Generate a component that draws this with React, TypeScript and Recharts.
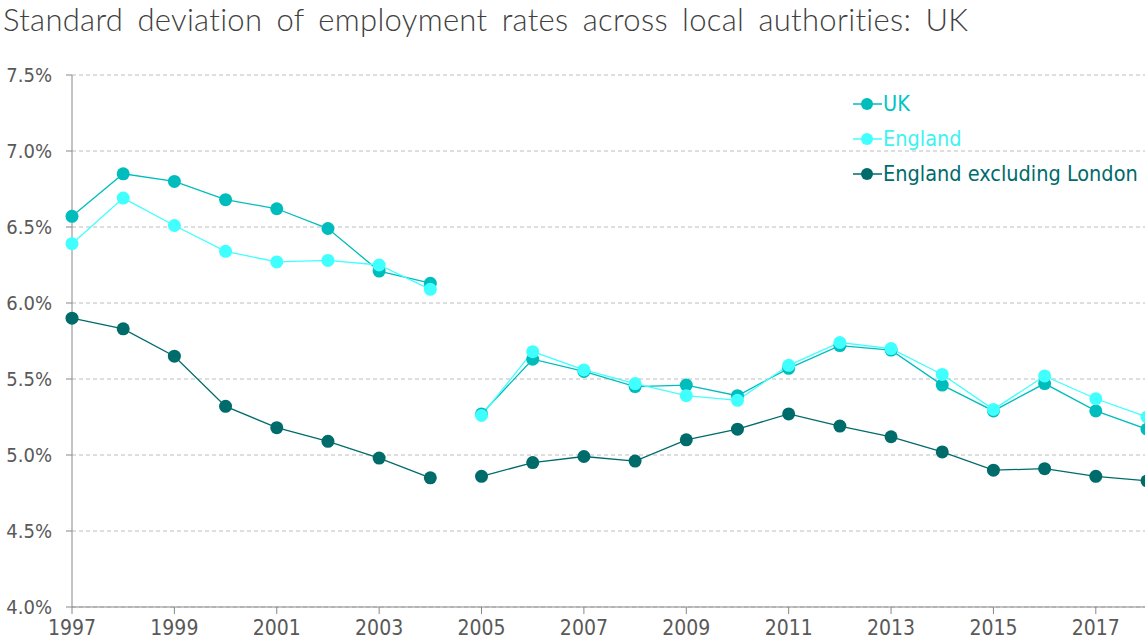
import React from 'react';
import { LineChart, Line, XAxis, YAxis, CartesianGrid, Legend } from 'recharts';

// years; 2004.5 is an empty row so the lines break between the two series blocks
const years = [1997, 1998, 1999, 2000, 2001, 2002, 2003, 2004, 2004.5, 2005, 2006, 2007, 2008, 2009, 2010, 2011, 2012, 2013, 2014, 2015, 2016, 2017, 2018];

const ukValues = [6.57, 6.85, 6.8, 6.68, 6.62, 6.49, 6.21, 6.13, null, 5.27, 5.63, 5.55, 5.45, 5.46, 5.39, 5.57, 5.72, 5.69, 5.46, 5.29, 5.47, 5.29, 5.17];
const englandValues = [6.39, 6.69, 6.51, 6.34, 6.27, 6.28, 6.25, 6.09, null, 5.26, 5.68, 5.56, 5.47, 5.39, 5.36, 5.59, 5.74, 5.7, 5.53, 5.3, 5.52, 5.37, 5.25];
const exclLondonValues = [5.9, 5.83, 5.65, 5.32, 5.18, 5.09, 4.98, 4.85, null, 4.86, 4.95, 4.99, 4.96, 5.1, 5.17, 5.27, 5.19, 5.12, 5.02, 4.9, 4.91, 4.86, 4.83];

const xTicks = [1997, 1999, 2001, 2003, 2005, 2007, 2009, 2011, 2013, 2015, 2017];
const yTicks = [4.0, 4.5, 5.0, 5.5, 6.0, 6.5, 7.0, 7.5];

const series = [
  { key: 'uk', name: 'UK', color: '#00BDBD', text: '#00C4C4' },
  { key: 'england', name: 'England', color: '#40FFFF', text: '#3EF2F2' },
  { key: 'excl', name: 'England excluding London', color: '#006B6B', text: '#006B6B' },
];

const data = years.map((year, i) => ({
  year,
  uk: ukValues[i],
  england: englandValues[i],
  excl: exclLondonValues[i],
}));

const tickFont = "'DejaVu Sans Condensed', 'DejaVu Sans', sans-serif";

function renderLegend(props: any) {
  const items = [...(props.payload || [])].sort(
    (a: any, b: any) => series.findIndex((s) => s.name === a.value) - series.findIndex((s) => s.name === b.value)
  );
  return (
    <div>
      {items.map((entry: any) => {
        const s = series.find((x) => x.name === entry.value);
        return (
          <div key={entry.value} style={{ display: 'flex', alignItems: 'center', height: 35 }}>
            <svg width={29} height={16} style={{ marginRight: 1 }}>
              <line x1={0} y1={8} x2={29} y2={8} stroke={entry.color} strokeWidth={1.5} />
              <circle cx={14} cy={8} r={6} fill={entry.color} />
            </svg>
            <span style={{ color: s ? s.text : entry.color, fontFamily: tickFont, fontSize: 21.5 }}>{entry.value}</span>
          </div>
        );
      })}
    </div>
  );
}

export default function App() {
  return (
    <div style={{ position: 'absolute', left: 0, top: 0, width: 1145, height: 644, overflow: 'hidden', background: '#fff' }}>
      <div
        style={{
          position: 'absolute',
          left: 3,
          top: 0,
          lineHeight: '38px',
          fontFamily: "Lato, 'Open Sans', sans-serif",
          fontWeight: 300,
          fontSize: 31,
          letterSpacing: 0.3,
          wordSpacing: 5.5,
          color: '#404040',
          whiteSpace: 'nowrap',
        }}
      >
        Standard deviation of employment rates across local authorities: UK
      </div>
      <LineChart width={1160} height={644} data={data} margin={{ top: 75, right: 13, bottom: 0, left: 0 }}>
        <CartesianGrid vertical={false} stroke="#BDBDBD" strokeDasharray="4 3" />
        <XAxis
          dataKey="year"
          type="number"
          domain={[1997, 2018]}
          ticks={xTicks}
          interval={0}
          height={37}
          stroke="#888"
          tickSize={7}
          tickMargin={6}
          tick={{ fontSize: 21, fill: '#595959', fontFamily: tickFont }}
        />
        <YAxis
          domain={[4, 7.5]}
          ticks={yTicks}
          width={72}
          stroke="#888"
          tickSize={6}
          tickMargin={14}
          tickFormatter={(v: number) => `${v.toFixed(1)}%`}
          tick={{ fontSize: 20, fill: '#595959', fontFamily: tickFont }}
        />
        <Legend
          layout="horizontal"
          verticalAlign="middle"
          align="center"
          content={renderLegend}
          wrapperStyle={{ left: 853, top: 86, width: 300 }}
        />
        {series.map((s) => (
          <Line
            key={s.key}
            type="linear"
            dataKey={s.key}
            name={s.name}
            stroke={s.color}
            strokeWidth={1.3}
            dot={{ r: 6.5, fill: s.color, stroke: 'none' }}
            activeDot={false}
            isAnimationActive={false}
          />
        ))}
      </LineChart>
    </div>
  );
}
